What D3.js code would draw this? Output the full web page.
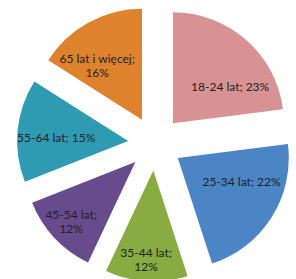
<!DOCTYPE html>
<html><head><meta charset="utf-8">
<script src="https://cdn.jsdelivr.net/npm/d3@7"></script>
<style>html,body{margin:0;padding:0;background:#fff;}svg{display:block;}</style>
</head><body>
<svg id="c" width="296" height="279"></svg>
<script>
const categories = ["18-24 lat", "25-34 lat", "35-44 lat", "45-54 lat", "55-64 lat", "65 lat i więcej"];
const values = [23, 22, 12, 12, 15, 16];
const colors = ["#D89293", "#4B85C6", "#88AB42", "#684B8C", "#2F9BB2", "#DF822E"];
const labelLines = [["18-24 lat; 23%"], ["25-34 lat; 22%"], ["35-44 lat;", "12%"], ["45-54 lat;", "12%"], ["55-64 lat; 15%"], ["65 lat i więcej;", "16%"]];
// label placement relative to slice apex (angle shift in degrees, distance px)
const labelAngleShift = [16, -12, 1, 0, -3, -11];
const labelDist = [68, 68, 90, 88, 72, 70];

const cx = 155, cy = 143.5, R = 111, explode = 27;
const svg = d3.select("#c");
const pie = d3.pie().sort(null).value(d => d)(values);
const arc = d3.arc().innerRadius(0).outerRadius(R);

const g = svg.selectAll("g.s").data(pie).join("g").attr("class", "s")
  .attr("transform", d => {
    const m = (d.startAngle + d.endAngle) / 2;
    return `translate(${cx + explode * Math.sin(m)},${cy - explode * Math.cos(m)})`;
  });
g.append("path").attr("d", arc).attr("fill", (d, i) => colors[i]);

g.each(function(d, i) {
  const m = (d.startAngle + d.endAngle) / 2 + labelAngleShift[i] * Math.PI / 180;
  const x = labelDist[i] * Math.sin(m), y = -labelDist[i] * Math.cos(m);
  const lines = labelLines[i];
  const lh = 14;
  const t = d3.select(this).append("text")
    .attr("text-anchor", "middle")
    .attr("font-family", "Lato, 'Open Sans', sans-serif")
    .attr("font-size", 12)
    .attr("fill", "#222");
  lines.forEach((s, k) => {
    t.append("tspan").attr("x", x).attr("y", y + (k - (lines.length - 1) / 2) * lh + 4).text(s);
  });
});
</script>
</body></html>
